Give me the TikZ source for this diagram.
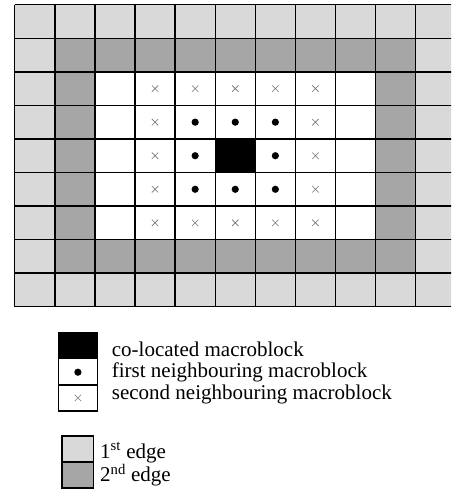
\documentclass[tikz,border=0pt]{standalone}
\usepackage{fontspec}
\setmainfont{Liberation Serif}
\definecolor{edge_one}{gray}{0.85}
\definecolor{edge_two}{gray}{0.65}
\definecolor{mark_gray}{gray}{0.45}
\tikzset{
  xmark/.pic={\draw[mark_gray,line width=0.6pt] (-3.2pt,-3.2pt) -- (3.2pt,3.2pt) (-3.2pt,3.2pt) -- (3.2pt,-3.2pt);},
  gridline/.style={line width=1.4pt},
  legendline/.style={line width=1.6pt}
}

\begin{document}
\begin{tikzpicture}[x=1pt, y=-1pt, font=\fontsize{21}{22}\selectfont,
    every node/.style={inner sep=0pt}]
  \useasboundingbox (0,0) rectangle (451,489);
  \clip (0,0) rectangle (451,489);
  % macroblock grid, one unit = one block
  \begin{scope}[shift={(14.7,4.7)}, x=40.1pt, y=-33.56pt]
    \fill[edge_one] (0,0) rectangle (11,9);
    \fill[edge_two] (1,1) rectangle (10,8);
    \fill[white] (2,2) rectangle (9,7);
    \fill[black] (5,4) rectangle (6,5);
    \foreach \i in {0,...,11}
      \draw[gridline] (\i,0) -- (\i,9);
    \foreach \j in {0,...,9}
      \draw[gridline] (0,\j) -- (11,\j);
    \foreach \i/\j in {4/3,5/3,6/3,4/4,6/4,4/5,5/5,6/5}
      \fill (\i+0.5,\j+0.5) circle (3.6pt);
    \foreach \i/\j in {3/2,4/2,5/2,6/2,7/2,3/6,4/6,5/6,6/6,7/6,3/3,3/4,3/5,7/3,7/4,7/5}
      \pic at (\i+0.5,\j+0.5) {xmark};
  \end{scope}
  % legend
  \fill[black] (58.3,332.7) rectangle (97.5,359.3);
  \draw[legendline] (58.3,332.7) rectangle (97.5,410.7);
  \draw[legendline] (58.3,385) -- (97.5,385);
  \fill (77.9,372.2) circle (3.6pt);
  \pic at (77.9,397.9) {xmark};
  \node[anchor=base west] (coloc) at (111.7,356) {co-located macroblock};
  \node[anchor=base west] (firstnb) at (111.7,377.7) {first neighbouring macroblock};
  \node[anchor=base west] (secondnb) at (111.7,399.3) {second neighbouring macroblock};
  \draw[legendline,fill=edge_one] (61.7,436) rectangle (93.3,461.7);
  \draw[legendline,fill=edge_two] (61.7,461.7) rectangle (93.3,487.7);
  \node[anchor=base west] (edgeone) at (100,458.3) {1\textsuperscript{st} edge};
  \node[anchor=base west] (edgetwo) at (100,481.7) {2\textsuperscript{nd} edge};
\end{tikzpicture}
\end{document}
